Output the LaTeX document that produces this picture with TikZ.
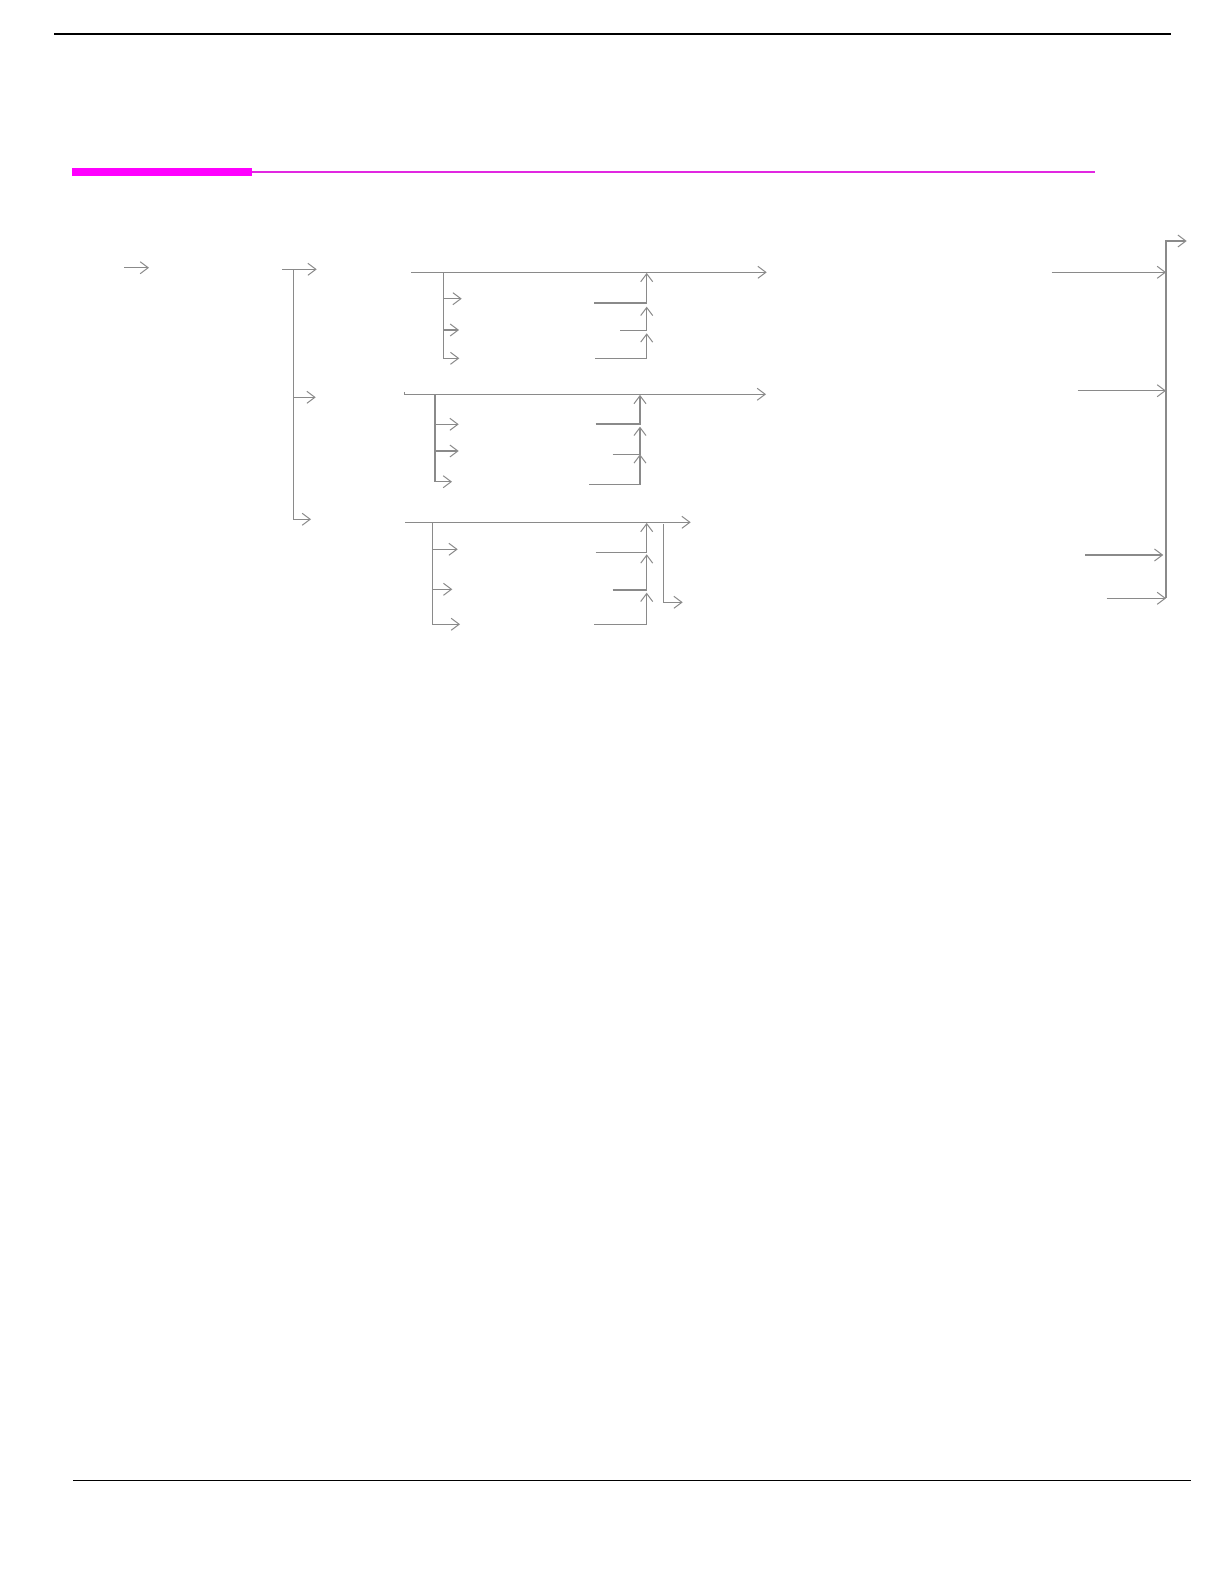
\documentclass[tikz,border=0pt]{standalone}
\usepackage{xcolor}
\usepackage{tikz}
\usetikzlibrary{arrows.meta,positioning}

\definecolor{linegray}{RGB}{138,138,138}
\definecolor{barmagenta}{RGB}{255,0,255}
\definecolor{rulemagenta}{RGB}{225,40,225}

\tikzset{
    wire/.style={draw=linegray, line width=1.2pt},
    flow/.style={wire, -{Straight Barb[length=8pt,width=12pt,line width=1pt]}},
    rulerline/.style={draw=black, line width=1.5pt},
}

\begin{document}
\begin{tikzpicture}[x=1pt, y=-1pt]
    \useasboundingbox (0,0) rectangle (1224,1582);

    % page rules
    \coordinate (topL) at (54,34);
    \coordinate (topR) at (1171,34);
    \coordinate (botL) at (73,1480.3);
    \coordinate (botR) at (1191,1480.3);
    \coordinate (barL) at (72,171.8);
    \coordinate (barM) at (252,171.8);
    \coordinate (barR) at (1095,171.8);
    \draw[rulerline] (topL) -- (topR);
    \draw[rulerline] (botL) -- (botR);
    \draw[draw=barmagenta, line width=8pt] (barL) -- (barM);
    \draw[draw=rulemagenta, line width=2.5pt] (barM) -- (barR);

    % entry
    \coordinate (in0) at (124,267.7);
    \coordinate (in1) at (149,267.7);
    \draw[flow] (in0) -- (in1);

    % first split
    \coordinate (sp0) at (282,269.3);
    \coordinate (spT) at (293.3,269.3);
    \coordinate (spM) at (293.3,397.3);
    \coordinate (spB) at (293.3,519.3);
    \draw[flow] (sp0) -- (spT) -- (316.7,269.3);
    \draw[flow] (spM) -- (315.7,397.3);
    \draw[flow] (spT) -- (spB) -- (311,519.3);

    % group one
    \coordinate (busA0) at (411,272.3);
    \coordinate (busA1) at (766.7,272.3);
    \coordinate (tapA) at (443.3,272.3);
    \draw[flow] (busA0) -- (busA1);
    \draw[wire] (tapA) -- (443.3,358.3);
    \foreach \y/\tip in {298.7/461.7, 330/459, 358.3/459.3}
        \draw[flow] (443.3,\y) -- (\tip,\y);
    \foreach \x/\y/\top in {594/303/272.9, 620/330.3/306.7, 595/358.3/333.3}
        \draw[flow] (\x,\y) -- (646.7,\y) -- (646.7,\top);

    % group two
    \coordinate (busB0) at (404.3,394.3);
    \coordinate (busB1) at (766,394.3);
    \coordinate (tapB) at (435,394.3);
    \draw[wire] (404.3,391.8) -- (busB0);
    \draw[flow] (busB0) -- (busB1);
    \draw[wire] (tapB) -- (435,481.7);
    \foreach \y/\tip in {424.3/458.7, 451/458.7, 481.7/452}
        \draw[flow] (435,\y) -- (\tip,\y);
    \foreach \x/\y/\top in {595.7/424/394.9, 612.7/454.3/426.7, 589.3/484.3/454.3}
        \draw[flow] (\x,\y) -- (640,\y) -- (640,\top);

    % group three
    \coordinate (busC0) at (405,522.3);
    \coordinate (busC1) at (690.7,522.3);
    \coordinate (tapC) at (432.3,522.3);
    \draw[flow] (busC0) -- (busC1);
    \draw[wire] (tapC) -- (432.3,624.3);
    \foreach \y/\tip in {549.3/457.7, 589.3/452.3, 624.3/460}
        \draw[flow] (432.3,\y) -- (\tip,\y);
    \foreach \x/\y/\top in {595.7/552.3/522.9, 612.7/590/554.3, 594/624.3/592.7}
        \draw[flow] (\x,\y) -- (646.7,\y) -- (646.7,\top);
    \coordinate (dropC0) at (663.3,524);
    \coordinate (dropC1) at (663.3,602.3);
    \draw[flow] (dropC0) -- (dropC1) -- (682.7,602.3);

    % right collector
    \coordinate (colT) at (1166,241);
    \coordinate (colB) at (1166,598.3);
    \draw[flow] (colB) -- (colT) -- (1186.7,241);
    \foreach \x/\y/\tip in {1051.7/272.3/1166, 1077.7/390.7/1166, 1085/555/1163.3, 1106.7/598.3/1166}
        \draw[flow] (\x,\y) -- (\tip,\y);
\end{tikzpicture}
\end{document}
